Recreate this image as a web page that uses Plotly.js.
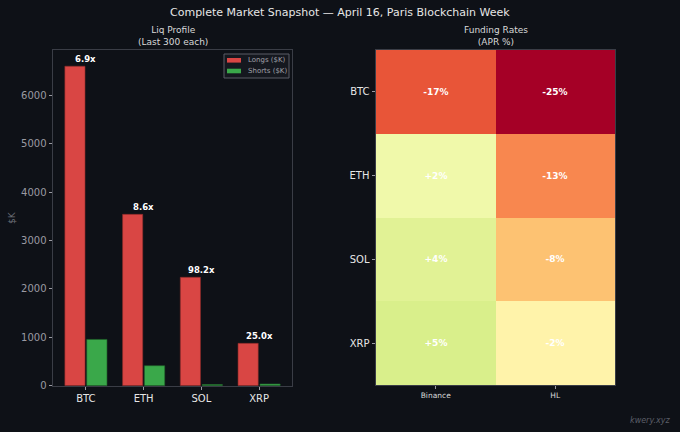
<!DOCTYPE html>
<html>
<head>
<meta charset="utf-8">
<script src="https://cdn.plot.ly/plotly-3.0.1.min.js"></script>
<style>
html,body{margin:0;padding:0;background:#0e1117;}
#chart{width:680px;height:432px;}
</style>
</head>
<body>
<div id="chart"></div>
<script>
// ---- data ----
const coins = ['BTC', 'ETH', 'SOL', 'XRP'];
const longsK = [6600, 3540, 2240, 875];
const shortsK = [956, 412, 22.8, 35];
const ratioLabels = ['6.9x', '8.6x', '98.2x', '25.0x'];
const exchanges = ['Binance', 'HL'];
const fundingBinance = [-17, 2, 4, 5];
const fundingHL = [-25, -13, -8, -2];
const seriesNames = ['Longs ($K)', 'Shorts ($K)'];
const seriesColors = ['#d94644', '#3aa84a'];

const bg = '#0e1117';
const spine = '#3a3d46';
const font = 'DejaVu Sans, sans-serif';

const fundingZ = coins.map((c, i) => [fundingBinance[i], fundingHL[i]]);
const fmt = v => (v > 0 ? '+' : '') + v + '%';
const fundingText = fundingZ.map(r => r.map(fmt));

const rdylgn = [
  [0.0, '#a50026'], [0.1, '#d73027'], [0.2, '#f46d43'], [0.3, '#fdae61'],
  [0.4, '#fee08b'], [0.5, '#ffffbf'], [0.6, '#d9ef8b'], [0.7, '#a6d96a'],
  [0.8, '#66bd63'], [0.9, '#1a9850'], [1.0, '#006837']
];

const traces = [
  {
    type: 'bar', name: seriesNames[0], x: coins, y: longsK,
    marker: {color: seriesColors[0], line: {color: '#8a2a28', width: 0.6}},
    xaxis: 'x', yaxis: 'y', offsetgroup: 'l', hoverinfo: 'skip', showlegend: false
  },
  {
    type: 'bar', name: seriesNames[1], x: coins, y: shortsK,
    marker: {color: seriesColors[1], line: {color: '#226a2c', width: 0.6}},
    xaxis: 'x', yaxis: 'y', offsetgroup: 's', hoverinfo: 'skip', showlegend: false
  },
  {
    type: 'heatmap', x: exchanges, y: coins, z: fundingZ,
    text: fundingText, texttemplate: '%{text}',
    textfont: {family: font, size: 9, color: '#ffffff', weight: 'bold'},
    colorscale: rdylgn, zmin: -25, zmax: 25, showscale: false,
    xaxis: 'x2', yaxis: 'y2', xgap: 0, ygap: 0, hoverinfo: 'skip'
  }
];

const annotations = coins.map((c, i) => ({
  x: c, y: longsK[i], xref: 'x', yref: 'y', text: ratioLabels[i],
  showarrow: false, yanchor: 'bottom', yshift: 0,
  font: {family: font, size: 8.5, color: '#ffffff', weight: 'bold'}
}));

const px = v => v / 680;
const py = v => 1 - v / 432;

annotations.push(
  {x: 0.5, y: py(12), xref: 'paper', yref: 'paper', showarrow: false,
   text: 'Complete Market Snapshot — April 16, Paris Blockchain Week',
   font: {family: font, size: 11, color: '#e6e6e6'}, xanchor: 'center', yanchor: 'middle'},
  {x: px(172.5), y: py(36), xref: 'paper', yref: 'paper', showarrow: false,
   text: 'Liq Profile<br>(Last 300 each)',
   font: {family: font, size: 9, color: '#d8d8d8'}, xanchor: 'center', yanchor: 'middle'},
  {x: px(495.5), y: py(36), xref: 'paper', yref: 'paper', showarrow: false,
   text: 'Funding Rates<br>(APR %)',
   font: {family: font, size: 9, color: '#d8d8d8'}, xanchor: 'center', yanchor: 'middle'},
  {x: px(12), y: py(218), xref: 'paper', yref: 'paper', showarrow: false,
   text: '$K', textangle: -90,
   font: {family: font, size: 9, color: '#6c6f78'}, xanchor: 'center', yanchor: 'middle'},
  {x: px(673), y: py(420), xref: 'paper', yref: 'paper', showarrow: false,
   text: '<i>kwery.xyz</i>',
   font: {family: font, size: 8, color: '#5c5f68'}, xanchor: 'right', yanchor: 'middle'}
);

// legend (drawn compactly, matplotlib style)
const shapes = [
  {type: 'rect', xref: 'paper', yref: 'paper', x0: px(224), x1: px(289), y0: py(54), y1: py(78),
   fillcolor: '#15181f', line: {color: '#5a5d66', width: 1}}
];
seriesNames.forEach((n, i) => {
  const yc = 60.3 + i * 10.7;
  shapes.push({type: 'rect', xref: 'paper', yref: 'paper', x0: px(227), x1: px(241),
    y0: py(yc - 2.3), y1: py(yc + 2.3), fillcolor: seriesColors[i], line: {width: 0}});
  annotations.push({x: px(245.5), y: py(yc), xref: 'paper', yref: 'paper', showarrow: false,
    text: n, xanchor: 'left', yanchor: 'middle',
    font: {family: font, size: 7, color: '#a0a0a8'}});
});

const layout = {
  width: 680, height: 432,
  paper_bgcolor: bg, plot_bgcolor: bg,
  margin: {l: 0, r: 0, t: 0, b: 0},
  font: {family: font, color: '#d8d8d8'},
  barmode: 'group', bargap: 0.24, bargroupgap: 0.08,
  showlegend: false,
  xaxis: {
    domain: [px(53), px(292)], anchor: 'y',
    range: [-0.57, 3.57], type: 'category',
    showline: true, linecolor: spine, linewidth: 1, mirror: true,
    showgrid: false, zeroline: false,
    ticks: 'outside', ticklen: 3.5, tickcolor: '#9a9aa2',
    tickfont: {family: font, size: 10, color: '#e6e6e6'}
  },
  yaxis: {
    domain: [py(385.7), py(50)], anchor: 'x',
    range: [0, 6935], tickvals: [0, 1000, 2000, 3000, 4000, 5000, 6000],
    showline: true, linecolor: spine, linewidth: 1, mirror: true,
    showgrid: false, zeroline: false,
    ticks: 'outside', ticklen: 3.5, tickcolor: '#9a9aa2',
    tickfont: {family: font, size: 10, color: '#9a9aa2'}
  },
  xaxis2: {
    domain: [px(376), px(615)], anchor: 'y2',
    showline: true, linecolor: spine, linewidth: 1, mirror: true,
    showgrid: false, zeroline: false,
    ticks: 'outside', ticklen: 3, tickcolor: '#9a9aa2',
    tickfont: {family: font, size: 7.5, color: '#d8d8d8'}
  },
  yaxis2: {
    domain: [py(385), py(50)], anchor: 'x2',
    autorange: 'reversed',
    showline: true, linecolor: spine, linewidth: 1, mirror: true,
    showgrid: false, zeroline: false,
    ticks: 'outside', ticklen: 3.5, tickcolor: '#9a9aa2',
    tickfont: {family: font, size: 10, color: '#e6e6e6'}
  },
  shapes: shapes,
  annotations: annotations
};

Plotly.newPlot('chart', traces, layout, {displayModeBar: false, staticPlot: true});
</script>
</body>
</html>
